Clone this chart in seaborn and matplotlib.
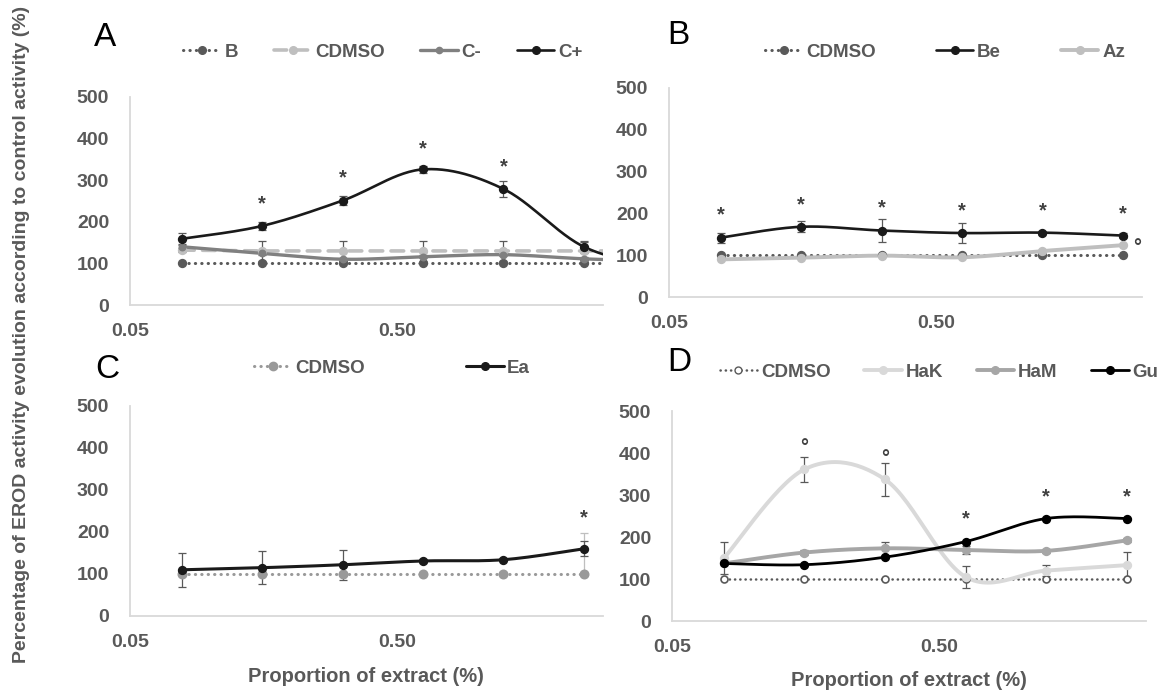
import numpy as np
import matplotlib
matplotlib.use("Agg")
import matplotlib.pyplot as plt
from matplotlib.lines import Line2D
import seaborn as sns

# ── Data ──
dose = [0.078, 0.156, 0.3125, 0.625, 1.25, 2.5]
dose_a = dose + [5.0]  # panel A has a 7th point that is cut off at the axis end

# Panel A
a_b = [100, 100, 100, 100, 100, 100, 100]
a_cdmso = [132, 130, 130, 130, 130, 130, 130]
a_cdmso_err = [4, 24, 24, 24, 24, 22, 0]
a_cneg = [140, 124, 110, 116, 121, 111, 105]
a_cneg_err = [6, 4, 4, 4, 4, 4, 0]
a_cpos = [159, 190, 251, 326, 279, 140, 90]
a_cpos_err = [15, 10, 10, 8, 20, 14, 0]
a_star_idx = [1, 2, 3, 4]
a_star_y = [252, 316, 386, 342]

# Panel B
b_cdmso = [100, 100, 100, 100, 100, 100]
b_be = [142, 168, 159, 153, 154, 147]
b_be_err = [12, 13, 27, 25, 5, 5]
b_az = [90, 94, 99, 95, 110, 124]
b_star_y = [206, 231, 222, 215, 216, 210]
b_circ_x, b_circ_y = 2.83, 134

# Panel C
c_cdmso = [100, 100, 100, 100, 100, 100]
c_cdmso_up = [0, 0, 0, 0, 0, 98]
c_ea = [110, 115, 122, 131, 134, 160]
c_ea_err = [40, 39, 36, 5, 3, 18]
c_star_idx = [5]
c_star_y = [243]

# Panel D
d_cdmso = [100, 100, 100, 100, 100, 100]
d_hak = [149, 361, 337, 105, 120, 133]
d_hak_err = [38, 30, 39, 26, 13, 32]
d_ham = [137, 163, 173, 169, 167, 192]
d_ham_err = [3, 5, 15, 10, 5, 5]
d_gu = [137, 134, 152, 189, 244, 244]
d_gu_err = [2, 2, 2, 2, 2, 2]
d_circ_idx = [1, 2]
d_circ_y = [428, 402]
d_star_idx = [3, 4, 5]
d_star_y = [252, 305, 306]

# ── Style ──
sns.set_theme(style="white")
plt.rcParams['font.family'] = ['Liberation Sans', 'DejaVu Sans']
plt.rcParams['font.weight'] = 'bold'
GREY_TXT = '#595959'
AXIS_C = '#D9D9D9'
FS = 13.5
W, H = 1168, 692


def box(l, t, r, b):
    return [l / W, 1 - b / H, (r - l) / W, (b - t) / H]


def smooth(x, y, n=30):
    """Excel-like smoothed line (Catmull-Rom in log-x / y space)."""
    lx = np.log10(np.asarray(x, float))
    y = np.asarray(y, float)
    P = np.column_stack([lx, y])
    ext = np.vstack([P[0], P, P[-1]])
    out = []
    t = np.linspace(0, 1, n)[:, None]
    for i in range(len(P) - 1):
        p0, p3 = P[i], P[i + 1]
        m0 = (ext[i + 2] - ext[i]) / 2
        m1 = (ext[i + 3] - ext[i + 1]) / 2
        p1, p2 = p0 + m0 / 3, p3 - m1 / 3
        seg = ((1 - t) ** 3) * p0 + 3 * ((1 - t) ** 2) * t * p1 + 3 * (1 - t) * t ** 2 * p2 + t ** 3 * p3
        out.append(seg if i == 0 else seg[1:])
    pts = np.vstack(out)
    return 10 ** pts[:, 0], pts[:, 1]


def series(ax, x, y, color, lw, ls='-', smooth_it=True, ms=5.5, mfc=None, err=None, ecolor=GREY_TXT):
    if err is not None:
        ax.errorbar(x, y, yerr=err, fmt='none', ecolor=ecolor, elinewidth=0.9, capsize=3, capthick=0.9, zorder=2)
    if smooth_it:
        sx, sy = smooth(x, y)
        sns.lineplot(x=sx, y=sy, sort=False, estimator=None, color=color, lw=lw, ax=ax, zorder=3)
    else:
        sns.lineplot(x=x, y=y, sort=False, estimator=None, color=color, lw=lw, ax=ax, zorder=3,
                     linestyle=ls, dash_capstyle='round')
    ax.plot(x, y, ls='none', marker='o', ms=ms, color=color,
            mfc=mfc if mfc else color, mec=color, mew=1.2, zorder=4)
    return Line2D([], [], color=color, lw=lw, ls=ls, marker='o', ms=ms,
                  mfc=mfc if mfc else color, mec=color, dash_capstyle='round')


def style_axes(ax):
    ax.set_xscale('log')
    ax.set_xlim(0.05, 2.95)
    ax.set_ylim(0, 500)
    ax.set_yticks([0, 100, 200, 300, 400, 500])
    ax.set_xticks([0.05, 0.5])
    ax.set_xticklabels(['0.05', '0.50'])
    ax.minorticks_off()
    for s in ['top', 'right']:
        ax.spines[s].set_visible(False)
    for s in ['left', 'bottom']:
        ax.spines[s].set_color(AXIS_C)
        ax.spines[s].set_linewidth(1.3)
    ax.tick_params(axis='y', length=0, pad=15, labelsize=FS + 0.5, labelcolor=GREY_TXT)
    ax.tick_params(axis='x', length=4, color=AXIS_C, pad=9, labelsize=FS + 0.5, labelcolor=GREY_TXT)
    ax.set_xlabel('')
    ax.set_ylabel('')


def marks(ax, xs, ys, sym, dy):
    # glyphs sit high in their text box, so shift them down a little
    for xv, yv in zip(xs, ys):
        ax.text(xv, yv - dy, sym, ha='center', va='center', fontsize=FS + 1, color='#404040',
                fontweight='bold', zorder=5)


def legend(ax, handles, labels, cx, cy, spacing):
    ax.legend(handles, labels, loc='center', bbox_to_anchor=(cx / W, 1 - cy / H),
              bbox_transform=fig.transFigure, ncol=len(labels), frameon=False,
              handlelength=2.0, handletextpad=0.2, columnspacing=spacing,
              fontsize=FS, labelcolor=GREY_TXT, borderpad=0)


dot = (0, (0.1, 2))
fig = plt.figure(figsize=(W / 100, H / 100), dpi=100)
ax_a = fig.add_axes(box(130, 97, 603, 305))
ax_b = fig.add_axes(box(669, 88, 1142, 297))
ax_c = fig.add_axes(box(130, 406, 603, 616))
ax_d = fig.add_axes(box(672, 411, 1146, 621))

# ── Panel A ──
h1 = series(ax_a, dose_a, a_b, '#595959', 2.2, ls=dot, smooth_it=False)
h2 = series(ax_a, dose_a, a_cdmso, '#BFBFBF', 2.6, ls=(0, (3.5, 2.3)), smooth_it=False, err=a_cdmso_err)
h3 = series(ax_a, dose_a, a_cneg, '#808080', 2.4, err=a_cneg_err, ms=4.5)
h4 = series(ax_a, dose_a, a_cpos, '#1A1A1A', 1.9, err=a_cpos_err)
marks(ax_a, [dose[i] for i in a_star_idx], a_star_y, '*', 10)
style_axes(ax_a)
legend(ax_a, [h1, h2, h3, h4], ['B', 'CDMSO', 'C-', 'C+'], 383, 52, 1.9)

# ── Panel B ──
h1 = series(ax_b, dose, b_cdmso, '#595959', 2.2, ls=dot, smooth_it=False)
h2 = series(ax_b, dose, b_be, '#1A1A1A', 1.9, err=b_be_err)
h3 = series(ax_b, dose, b_az, '#BFBFBF', 2.8)
marks(ax_b, dose, b_star_y, '*', 10)
marks(ax_b, [b_circ_x], [b_circ_y], '°', 16)
style_axes(ax_b)
legend(ax_b, [h1, h2, h3], ['CDMSO', 'Be', 'Az'], 945, 52, 3.2)

# ── Panel C ──
h1 = series(ax_c, dose, c_cdmso, '#999999', 2.2, ls=dot, smooth_it=False, ms=6,
            err=[[0] * 6, c_cdmso_up], ecolor='#BFBFBF')
h2 = series(ax_c, dose, c_ea, '#1A1A1A', 2.2, err=c_ea_err)
marks(ax_c, [dose[i] for i in c_star_idx], c_star_y, '*', 10)
style_axes(ax_c)
legend(ax_c, [h1, h2], ['CDMSO', 'Ea'], 392, 368, 5.4)

# ── Panel D ──
h1 = series(ax_d, dose, d_cdmso, '#595959', 1.8, ls=dot, smooth_it=False, mfc='white', ms=5)
h2 = series(ax_d, dose, d_hak, '#D9D9D9', 2.8, err=d_hak_err)
h3 = series(ax_d, dose, d_ham, '#A6A6A6', 2.8, err=d_ham_err)
h4 = series(ax_d, dose, d_gu, '#000000', 2.0, err=d_gu_err)
marks(ax_d, [dose[i] for i in d_circ_idx], d_circ_y, '°', 16)
marks(ax_d, [dose[i] for i in d_star_idx], d_star_y, '*', 10)
style_axes(ax_d)
legend(ax_d, [h1, h2, h3, h4], ['CDMSO', 'HaK', 'HaM', 'Gu'], 939, 372, 1.8)

# ── Labels ──
for lab, (px, py) in zip('ABCD', [(105, 37), (678, 36), (107, 369), (679, 363)]):
    fig.text(px / W, 1 - py / H, lab, ha='center', va='center', fontsize=24,
             family='Liberation Sans', fontweight='normal', color='black')
fig.text(22 / W, 1 - 334 / H, 'Percentage of EROD activity evolution according to control activity (%)',
         rotation=90, ha='center', va='center', fontsize=14, color=GREY_TXT)
fig.text(366 / W, 1 - 677 / H, 'Proportion of extract (%)', ha='center', va='center',
         fontsize=14.5, color=GREY_TXT)
fig.text(909 / W, 1 - 680 / H, 'Proportion of extract (%)', ha='center', va='center',
         fontsize=14.5, color=GREY_TXT)

fig.savefig('out.png', dpi=100)
